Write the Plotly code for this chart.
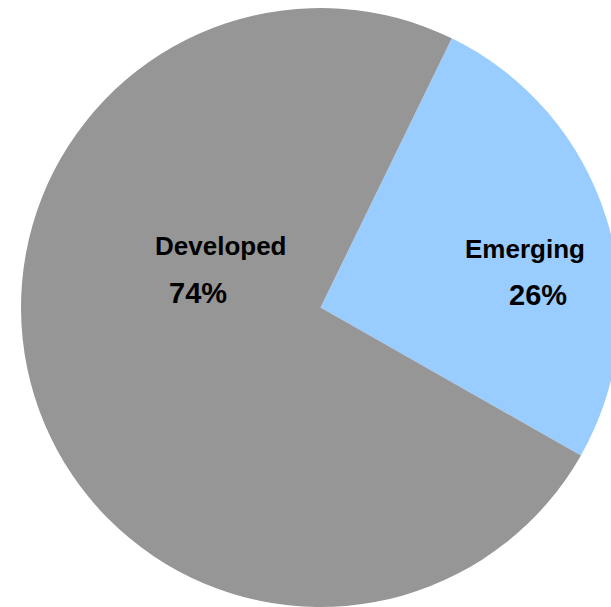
import plotly.graph_objects as go

labels = ["Emerging", "Developed"]
values = [26, 74]
colors = ["#99CCFF", "#969696"]

# label annotation positions (paper coords) per category
label_pos = {"Emerging": (0.8414, 0.5977), "Developed": (0.3347, 0.6035)}
pct_pos = {"Emerging": (0.8631, 0.5209), "Developed": (0.2955, 0.5247)}

total = sum(values)

fig = go.Figure(go.Pie(
    labels=labels,
    values=values,
    sort=False,
    direction="clockwise",
    rotation=26,
    marker=dict(colors=colors, line=dict(width=0)),
    textinfo="none",
    hoverinfo="skip",
    showlegend=False,
))

annotations = []
for lab, val in zip(labels, values):
    lx, ly = label_pos[lab]
    px, py = pct_pos[lab]
    annotations.append(dict(x=lx, y=ly, xref="paper", yref="paper", text=lab,
                            showarrow=False, xanchor="center", yanchor="middle",
                            font=dict(family="Liberation Sans, Arial", size=26, color="black", weight="bold")))
    annotations.append(dict(x=px, y=py, xref="paper", yref="paper",
                            text=f"{val / total * 100:.0f}%",
                            showarrow=False, xanchor="center", yanchor="middle",
                            font=dict(family="Liberation Sans, Arial", size=29, color="black", weight="bold")))

fig.update_layout(
    width=640, height=607,
    margin=dict(l=21, r=20, t=8, b=0, pad=0),
    paper_bgcolor="white", plot_bgcolor="white",
    annotations=annotations,
)

fig.write_html("out.html", config={"displayModeBar": False},
               post_script="document.body.style.margin='0';document.body.style.overflow='hidden';document.documentElement.style.overflow='hidden';")
